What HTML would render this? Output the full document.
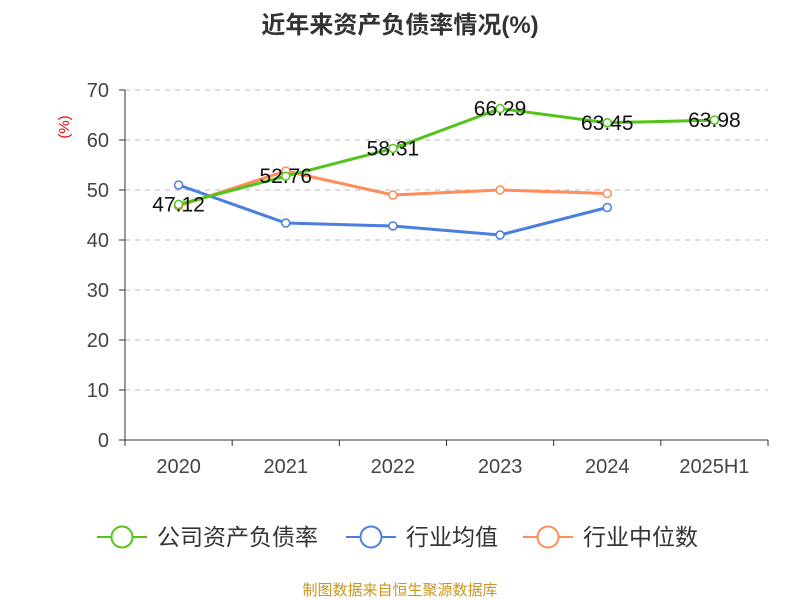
<!DOCTYPE html>
<html><head><meta charset="utf-8"><style>
body{margin:0;background:#fff;}
svg{display:block;font-family:"Liberation Sans","Noto Sans CJK SC",sans-serif;}
</style></head><body>
<svg id="chart" width="800" height="600">
<text x="400" y="33" text-anchor="middle" font-size="24" font-weight="bold" fill="#333">近年来资产负债率情况(%)</text>
<text x="69" y="127" text-anchor="middle" font-size="15" fill="#e00" transform="rotate(-90 69 127)">(%)</text>
<g id="grid"></g><g id="axes"></g><g id="series"></g>
<g>
<g><line x1="97" y1="537" x2="147" y2="537" stroke="#52c41a" stroke-width="2"/><circle cx="122" cy="537" r="10.5" fill="#fff" stroke="#52c41a" stroke-width="2"/><text x="157" y="545" font-size="23" fill="#333">公司资产负债率</text></g>
<g><line x1="346" y1="537" x2="396" y2="537" stroke="#4a7fe0" stroke-width="2"/><circle cx="371" cy="537" r="10.5" fill="#fff" stroke="#4a7fe0" stroke-width="2"/><text x="406" y="545" font-size="23" fill="#333">行业均值</text></g>
<g><line x1="523" y1="537" x2="573" y2="537" stroke="#ff8c5a" stroke-width="2"/><circle cx="548" cy="537" r="10.5" fill="#fff" stroke="#ff8c5a" stroke-width="2"/><text x="583" y="545" font-size="23" fill="#333">行业中位数</text></g>
</g>
<text x="400" y="595" text-anchor="middle" font-size="15" fill="#c8961e">制图数据来自恒生聚源数据库</text>
</svg>
<script>
const categories=["2020","2021","2022","2023","2024","2025H1"];
const companyRatio=[47.12,52.76,58.31,66.29,63.45,63.98];
const industryMean=[51.0,43.4,42.8,41.0,46.5];
const industryMedian=[46.8,53.8,49.0,50.0,49.3];
const yTicks=[0,10,20,30,40,50,60,70];
const NS="http://www.w3.org/2000/svg";
const x0=125,x1=768,yb=440,yt=90,ymax=70;
const bw=(x1-x0)/categories.length;
const xs=i=>x0+bw*(i+0.5);
const ys=v=>yb-(v/ymax)*(yb-yt);
function mk(tag,attrs,parent){const e=document.createElementNS(NS,tag);for(const k in attrs)e.setAttribute(k,attrs[k]);parent.appendChild(e);return e;}
const grid=document.getElementById('grid'),axes=document.getElementById('axes'),ser=document.getElementById('series');
yTicks.forEach(t=>{
 if(t>0){const g=mk('line',{x1:x0,x2:x1,y1:ys(t),y2:ys(t),stroke:'#bbb','stroke-dasharray':'5,5'},grid);
 
 }
 const tk=mk('line',{x1:x0-6,x2:x0,y1:ys(t),y2:ys(t),stroke:'#333'},axes);
 
 
 const l=mk('text',{x:x0-16,y:ys(t)+7,'text-anchor':'end','font-size':20,fill:'#444'},axes);l.textContent=t;
 
 
});
const ya=mk('line',{x1:x0,x2:x0,y1:yt,y2:yb,stroke:'#333'},axes);


const xa=mk('line',{x1:x0,x2:x1,y1:yb,y2:yb,stroke:'#333'},axes);


for(let i=0;i<=categories.length;i++){const t=mk('line',{x1:x0+bw*i,x2:x0+bw*i,y1:yb,y2:yb+6,stroke:'#333'},axes);
 
 }
categories.forEach((c,i)=>{const l=mk('text',{x:xs(i),y:473,'text-anchor':'middle','font-size':20,fill:'#444'},axes);l.textContent=c;
 
 });
function series(vals,color,name,labels){
 const g=mk('g',{},ser);
 
 
 const p=mk('polyline',{points:vals.map((v,i)=>xs(i)+','+ys(v)).join(' '),fill:'none',stroke:color,'stroke-width':3},g);
 
 
 vals.forEach((v,i)=>{const c=mk('circle',{cx:xs(i),cy:ys(v),r:4,fill:'#fff',stroke:color,'stroke-width':1.5},g);
  
  
  if(labels){const t=mk('text',{x:xs(i),y:ys(v)+7,'text-anchor':'middle','font-size':21,fill:'#111'},g);t.textContent=v.toFixed(2);
  
  }
 });
}
series(industryMean,'#4a7fe0','industry-mean-series',false);
series(industryMedian,'#ff8c5a','industry-median-series',false);
series(companyRatio,'#52c41a','company-ratio-series',true);
</script>
</body></html>
